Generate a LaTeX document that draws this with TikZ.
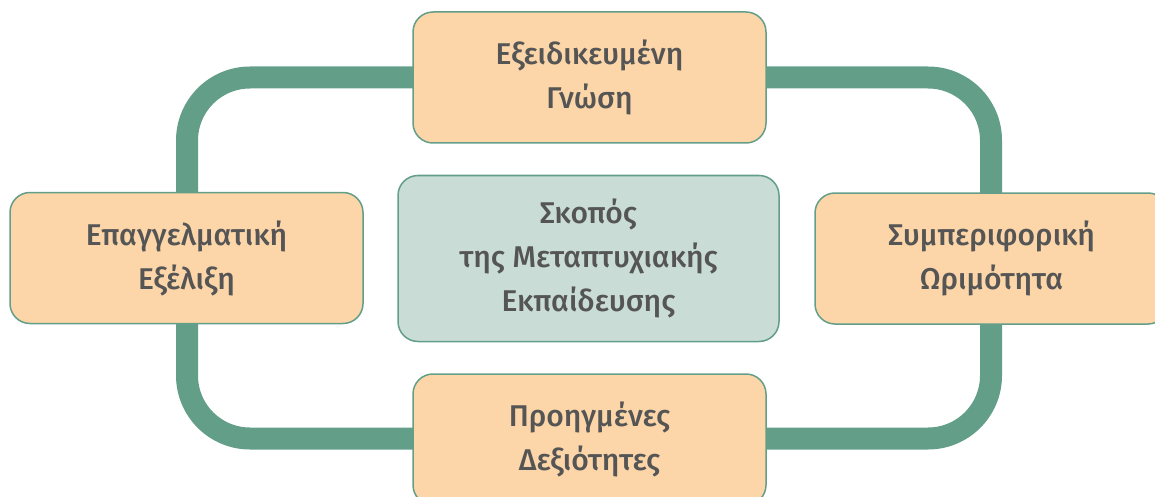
\documentclass[tikz,border=0pt]{standalone}
\usepackage{fontspec}
\setmainfont{Fira Sans}[UprightFont=* Medium]
\definecolor{loopgreen}{HTML}{639E88}
\definecolor{boxfill}{HTML}{FCD6A8}
\definecolor{centerfill}{HTML}{C9DDD6}
\definecolor{txt}{HTML}{555555}
\begin{document}
\begin{tikzpicture}[x=1pt,y=-1pt,
  box/.style={draw=loopgreen, line width=1.5pt, fill=boxfill, rounded corners=20pt,
    minimum width=353pt, minimum height=131pt, align=center, text=txt,
    font=\fontsize{30}{44}\selectfont, inner sep=0pt},
  centerbox/.style={box, fill=centerfill, minimum width=381pt, minimum height=166pt}]
\useasboundingbox (0,0) rectangle (1155,497);
\clip (0,0) rectangle (1155,497);
\draw[loopgreen, line width=22pt, rounded corners=63pt] (187,77.5) rectangle (991,438.5);
\node[box] (top) at (589.5,77.5) {Εξειδικευμένη\\Γνώση};
\node[box] (left) at (186.5,258) {Επαγγελματική\\Εξέλιξη};
\node[box] (right) at (991.5,258.5) {Συμπεριφορική\\Ωριμότητα};
\node[box] (bottom) at (589.5,439.5) {Προηγμένες\\Δεξιότητες};
\node[centerbox] (center) at (588.5,258.5) {Σκοπός\\της Μεταπτυχιακής\\Εκπαίδευσης};
\end{tikzpicture}
\end{document}
